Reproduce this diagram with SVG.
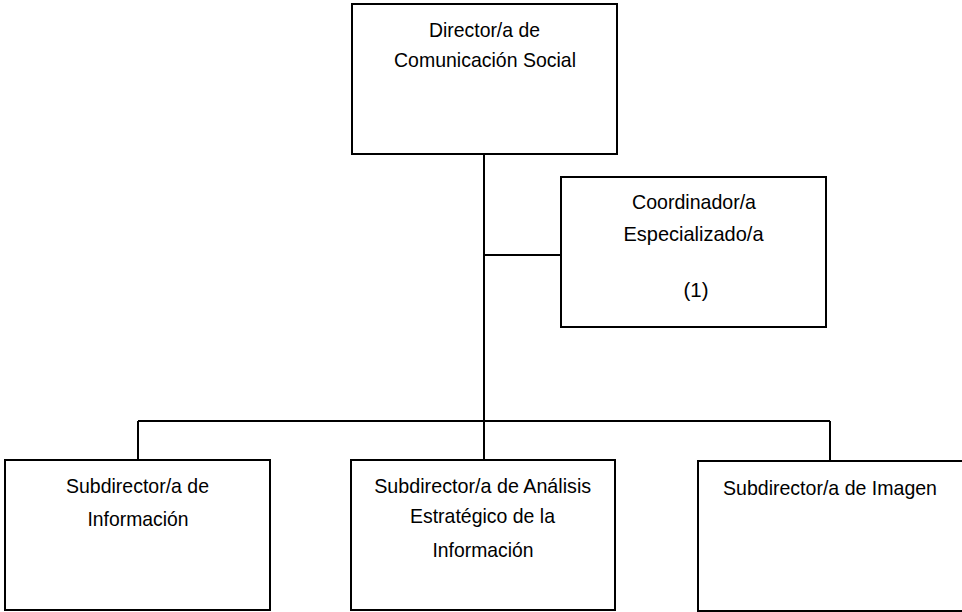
<svg xmlns="http://www.w3.org/2000/svg" width="962" height="612" viewBox="0 0 962 612">
<style>
.box{fill:#fff;stroke:#000;stroke-width:2}
.ln{fill:none;stroke:#000;stroke-width:2}
text{font-family:"Liberation Sans",Arial,sans-serif;font-size:21px;fill:#000;text-anchor:middle}
</style>
<rect width="962" height="612" fill="#fff"/>
<g id="connectors">
<path class="ln" d="M484 154V460"/>
<path class="ln" d="M484 255H561"/>
<path class="ln" d="M138 421H830"/>
<path class="ln" d="M138 421V460"/>
<path class="ln" d="M830 421V461"/>
</g>
<g id="director">
<rect class="box" x="352" y="4" width="265" height="150"/>
<text x="484.5" y="37" textLength="111" lengthAdjust="spacingAndGlyphs">Director/a de</text>
<text x="485" y="67" textLength="182" lengthAdjust="spacingAndGlyphs">Comunicación Social</text>
</g>
<g id="coordinador">
<rect class="box" x="561" y="177" width="265" height="150"/>
<text x="694" y="209" textLength="124" lengthAdjust="spacingAndGlyphs">Coordinador/a</text>
<text x="693.5" y="241" textLength="140" lengthAdjust="spacingAndGlyphs">Especializado/a</text>
<text x="696" y="297" textLength="25" lengthAdjust="spacingAndGlyphs">(1)</text>
</g>
<g id="sub-informacion">
<rect class="box" x="5" y="460" width="265" height="150"/>
<text x="137.5" y="493" textLength="143" lengthAdjust="spacingAndGlyphs">Subdirector/a de</text>
<text x="138" y="526" textLength="101" lengthAdjust="spacingAndGlyphs">Información</text>
</g>
<g id="sub-analisis">
<rect class="box" x="351" y="460" width="264" height="150"/>
<text x="482.7" y="493" textLength="217" lengthAdjust="spacingAndGlyphs">Subdirector/a de Análisis</text>
<text x="482.5" y="523" textLength="145" lengthAdjust="spacingAndGlyphs">Estratégico de la</text>
<text x="483" y="557" textLength="101" lengthAdjust="spacingAndGlyphs">Información</text>
</g>
<g id="sub-imagen">
<rect class="box" x="698" y="461" width="266" height="150"/>
<text x="830" y="495" textLength="214" lengthAdjust="spacingAndGlyphs">Subdirector/a de Imagen</text>
</g>
</svg>
